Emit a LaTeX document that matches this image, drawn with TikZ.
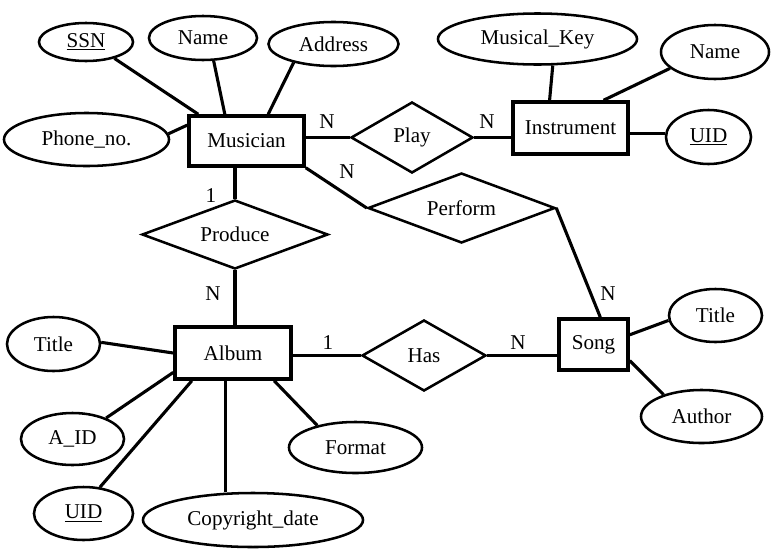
\documentclass[tikz,border=0pt]{standalone}
\usepackage{fontspec}
\setmainfont{Liberation Serif}
\usetikzlibrary{shapes.geometric}

\begin{document}
\begin{tikzpicture}[x=0.025cm, y=-0.025cm,
    every node/.style={font=\fontsize{15}{18}\selectfont},
    entity/.style={rectangle, draw, line width=2.5pt},
    attr/.style={ellipse, draw, line width=1.8pt, inner sep=0pt},
    rel/.style={diamond, draw, line width=1.8pt, inner sep=0pt, aspect=2.6},
    link/.style={line width=2.2pt},
    card/.style={inner sep=0pt}]
    \useasboundingbox (0,0) rectangle (781,553);

    % Entities
    \node[entity, minimum width=2.875cm, minimum height=1.25cm] (musician) at (246.5,141) {Musician};
    \node[entity, minimum width=2.875cm, minimum height=1.3cm] (instrument) at (570.5,128) {Instrument};
    \node[entity, minimum width=2.9cm, minimum height=1.3cm] (album) at (233,353) {Album};
    \node[entity, minimum width=1.725cm, minimum height=1.275cm] (song) at (593.5,344.5) {Song};

    % Relationships
    \node[rel, minimum width=4.65cm, minimum height=1.725cm] (produce) at (235,234.5) {Produce};
    \node[rel, minimum width=3.05cm, minimum height=1.775cm] (play) at (412,137.5) {Play};
    \node[rel, minimum width=4.675cm, minimum height=1.75cm] (perform) at (461.5,208) {Perform};
    \node[rel, minimum width=3.1cm, minimum height=1.775cm] (has) at (424,355.5) {Has};

    % Musician attributes
    \node[attr, minimum width=2.35cm, minimum height=0.95cm] (ssn) at (86,42) {\underline{SSN}};
    \node[attr, minimum width=2.7cm, minimum height=1.1cm] (mname) at (203,38) {Name};
    \node[attr, minimum width=3.25cm, minimum height=1.1cm] (address) at (333.5,44) {Address};
    \node[attr, minimum width=4.125cm, minimum height=1.325cm] (phone) at (86.5,139.5) {Phone\_no.};

    % Instrument attributes
    \node[attr, minimum width=4.975cm, minimum height=1.275cm] (mkey) at (537.5,39) {Musical\_Key};
    \node[attr, minimum width=2.7cm, minimum height=1.35cm] (iname) at (715,52) {Name};
    \node[attr, minimum width=2.125cm, minimum height=1.35cm] (iuid) at (708.5,137) {\underline{UID}};

    % Song attributes
    \node[attr, minimum width=2.325cm, minimum height=1.325cm] (stitle) at (715.5,315.5) {Title};
    \node[attr, minimum width=3.025cm, minimum height=1.325cm] (author) at (701.5,416.5) {Author};

    % Album attributes
    \node[attr, minimum width=2.325cm, minimum height=1.35cm] (atitle) at (53.5,344) {Title};
    \node[attr, minimum width=2.575cm, minimum height=1.3cm] (aid) at (72.5,439) {A\_ID};
    \node[attr, minimum width=2.475cm, minimum height=1.325cm] (auid) at (83.5,513.5) {\underline{UID}};
    \node[attr, minimum width=5.5cm, minimum height=1.35cm] (copy) at (253,520) {Copyright\_date};
    \node[attr, minimum width=3.325cm, minimum height=1.275cm] (format) at (355.5,447.5) {Format};

    % Attribute links
    \draw[link] (ssn.330) -- (musician.151);
    \draw[link] (mname.295) -- (musician.129);
    \draw[link] (address.205) -- (musician.51);
    \draw[link] (phone.4) -- (musician.165);
    \draw[link] (mkey.300) -- (instrument.127);
    \draw[link] (iname.200) -- (instrument.40);
    \draw[link] (instrument.355) -- (instrument.355 -| iuid.west);
    \draw[link] (song.15) -- (stitle.186);
    \draw[link] (song.336) -- (author.150);
    \draw[link] (atitle.2) -- (album.west);
    \draw[link] (aid.32) -- (album.198);
    \draw[link] (auid.58) -- (album.214);
    \draw[link] (album.255) -- (album.255 |- copy.north);
    \draw[link] (album.326) -- (format.150);

    % Relationship links
    \draw[link] (produce.north) -- (produce.north |- musician.south);
    \draw[link] (produce.south) -- (produce.south |- album.north);
    \draw[link] (play.west) -- (play.west -| musician.east);
    \draw[link] (play.east) -- (play.east -| instrument.west);
    \draw[link] (musician.south east) -- (perform.west);
    \draw[link] (perform.east) -- (song.76);
    \draw[link] (has.west) -- (has.west -| album.east);
    \draw[link] (has.east) -- (has.east -| song.west);

    % Cardinalities
    \node[card] (c1) at (211,196) {1};
    \node[card] (c2) at (213,294) {N};
    \node[card] (c3) at (327,122) {N};
    \node[card] (c4) at (487,122) {N};
    \node[card] (c5) at (347,172) {N};
    \node[card] (c6) at (608,294) {N};
    \node[card] (c7) at (328,343) {1};
    \node[card] (c8) at (518,343) {N};
\end{tikzpicture}
\end{document}
